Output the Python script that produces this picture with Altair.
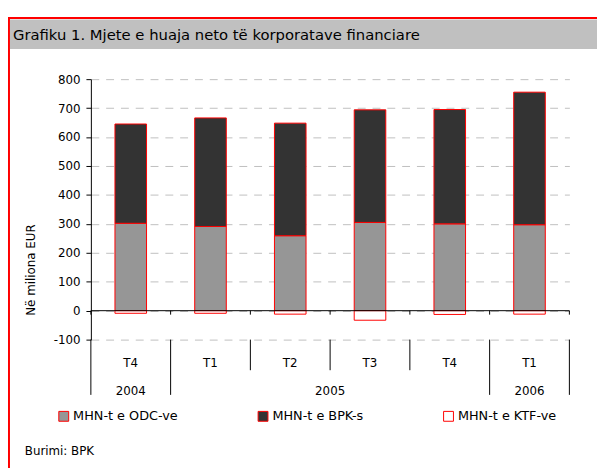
import altair as alt
import pandas as pd

# ---- data ----
quarters = ["T4", "T1", "T2", "T3", "T4", "T1"]
years = ["2004", "2005", "2005", "2005", "2005", "2006"]
odc = [302, 291, 259, 305, 300, 297]      # MHN-t e ODC-ve
bpk = [343, 375, 389, 389, 395, 458]      # MHN-t e BPK-s
ktf = [-9, -9, -12, -33, -13, -12]        # MHN-t e KTF-ve
series_names = ["MHN-t e ODC-ve", "MHN-t e BPK-s", "MHN-t e KTF-ve"]
series_colors = ["#969696", "#333333", "#FFFFFF"]
y_ticks = list(range(-100, 801, 100))
title_text = "Grafiku 1. Mjete e huaja neto të korporatave financiare"
y_title = "Në miliona EUR"
source_text = "Burimi: BPK"

FONT = "DejaVu Sans"
W, H = 485, 264
n = len(quarters)

rows = []
for i in range(n):
    for k, (name, vals) in enumerate(zip(series_names, [odc, bpk, ktf])):
        rows.append({"i": i, "quarter": quarters[i], "year": years[i],
                     "series": name, "order": k, "value": vals[i]})
df = pd.DataFrame(rows)

cat = pd.DataFrame({"i": list(range(n)), "quarter": quarters, "year": years})

# boundaries between categories; long where the year changes
bounds = []
for b in range(n + 1):
    long_ = b == 0 or b == n or years[b] != years[b - 1]
    bounds.append({"b": b, "long": long_, "lo": -100, "zero": 0})
bdf = pd.DataFrame(bounds)

x_scale = alt.Scale(domain=[0, n], nice=False, zero=False)
y_scale = alt.Scale(domain=[-100, 800], nice=False, zero=False)
y_axis = alt.Axis(
    values=y_ticks, grid=True, gridDash=[8, 7], gridColor="#BFBFBF", gridWidth=1,
    domainColor="black", domainWidth=1, tickColor="black", tickSize=5,
    labelFont=FONT, labelFontSize=12, labelColor="black", labelPadding=6,
    labelExpr="'' + datum.value",
    title=y_title, titleFont=FONT, titleFontSize=12, titleFontWeight="normal",
    titleColor="black", titleX=-61, titleY=193, titleAngle=270,
    titleAlign="center", titleBaseline="middle")

one = pd.DataFrame({"a": [0]})

border = alt.Chart(one).mark_rect(fillOpacity=0, stroke="#FF0000", strokeWidth=2).encode(
    x=alt.value(-83), x2=alt.value(W + 60), y=alt.value(-62), y2=alt.value(H + 160))
band = alt.Chart(one).mark_rect(fill="#C0C0C0").encode(
    x=alt.value(-82), x2=alt.value(W + 60), y=alt.value(-60.5), y2=alt.value(-30.5))
title = alt.Chart(one).mark_text(align="left", baseline="middle", font=FONT,
                                 fontSize=15, color="black").encode(
    x=alt.value(-79), y=alt.value(-45), text=alt.value(title_text))
source = alt.Chart(one).mark_text(align="left", baseline="middle", font=FONT,
                                  fontSize=12, color="black").encode(
    x=alt.value(-67), y=alt.value(376.5), text=alt.value(source_text))

bars = alt.Chart(df).transform_stack(
    stack="value", groupby=["i"], as_=["y0", "y1"],
    sort=[alt.SortField("order", order="ascending")], offset="zero"
).transform_calculate(
    x0="datum.i + 0.302", x1="datum.i + 0.698"
).mark_bar(stroke="#FF0000", strokeWidth=1).encode(
    x=alt.X("x0:Q", scale=x_scale, axis=None),
    x2="x1:Q",
    y=alt.Y("y0:Q", scale=y_scale, axis=y_axis),
    y2="y1:Q",
    color=alt.Color("series:N", scale=alt.Scale(domain=series_names, range=series_colors),
                    legend=alt.Legend(
                        orient="none", legendX=-34, legendY=335, direction="horizontal",
                        title=None, symbolType="square", symbolSize=100,
                        symbolStrokeColor="#FF0000", symbolStrokeWidth=1,
                        labelFont=FONT, labelFontSize=13, labelColor="black",
                        labelOffset=3, columnPadding=78, padding=0)),
)

zero_line = alt.Chart(pd.DataFrame({"zero": [0]})).mark_rule(color="black", strokeWidth=1).encode(
    y=alt.Y("zero:Q", scale=y_scale, axis=y_axis))

zero_ticks = alt.Chart(bdf).mark_rule(color="black", strokeWidth=1, y2Offset=4).encode(
    x=alt.X("b:Q", scale=x_scale, axis=None),
    y=alt.Y("zero:Q", scale=y_scale, axis=y_axis), y2="zero:Q")

short_sep = alt.Chart(bdf).transform_filter("!datum.long").mark_rule(
    color="black", strokeWidth=1, y2Offset=31).encode(
    x=alt.X("b:Q", scale=x_scale, axis=None),
    y=alt.Y("lo:Q", scale=y_scale, axis=y_axis), y2="lo:Q")

long_sep = alt.Chart(bdf).transform_filter("datum.long").mark_rule(
    color="black", strokeWidth=1, y2Offset=56).encode(
    x=alt.X("b:Q", scale=x_scale, axis=None),
    y=alt.Y("lo:Q", scale=y_scale, axis=y_axis), y2="lo:Q")

q_labels = alt.Chart(cat).transform_calculate(
    xc="datum.i + 0.5", lo="-100"
).mark_text(baseline="middle", align="center", font=FONT, fontSize=12,
            color="black", dy=24).encode(
    x=alt.X("xc:Q", scale=x_scale, axis=None),
    y=alt.Y("lo:Q", scale=y_scale, axis=y_axis),
    text="quarter:N")

y_labels = alt.Chart(cat).transform_calculate(
    xc="datum.i + 0.5"
).transform_aggregate(
    xm="mean(xc)", groupby=["year"]
).transform_calculate(lo="-100").mark_text(
    baseline="middle", align="center", font=FONT, fontSize=12,
    color="black", dy=52).encode(
    x=alt.X("xm:Q", scale=x_scale, axis=None),
    y=alt.Y("lo:Q", scale=y_scale, axis=y_axis),
    text="year:N")

chart = alt.layer(
    border, band, title, source, bars, zero_line, zero_ticks,
    short_sep, long_sep, q_labels, y_labels
).properties(
    width=W, height=H,
    padding={"left": 84, "top": 69, "right": 28, "bottom": 127},
    autosize=alt.AutoSizeParams(type="none"),
).configure_view(stroke=None)

chart.save("out.html", embed_options={"renderer": "svg", "actions": False})
